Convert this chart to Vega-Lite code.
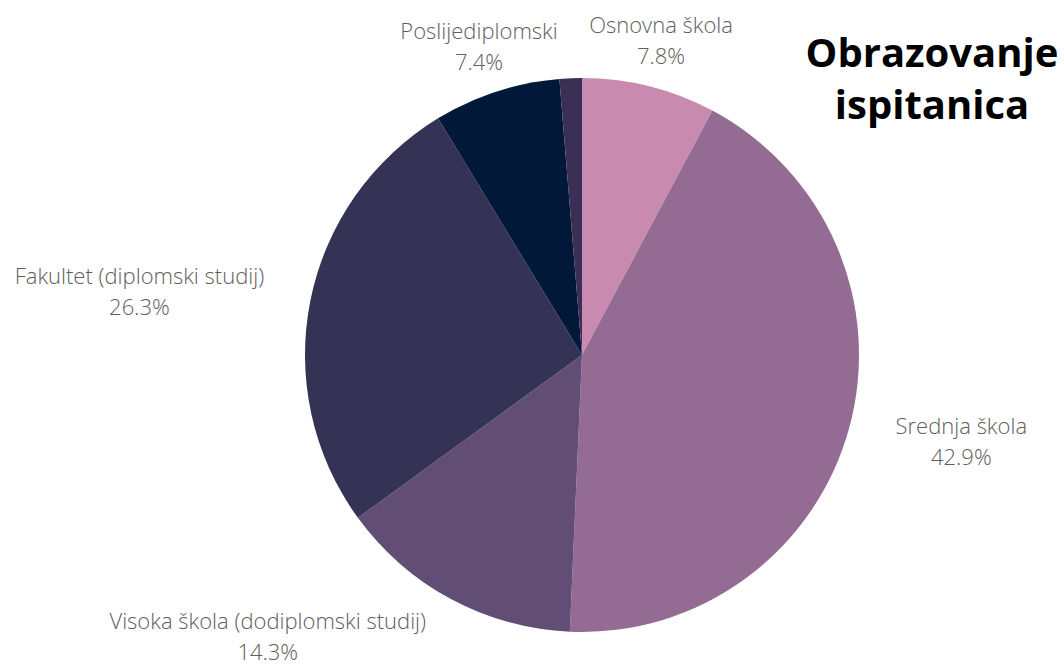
{
  "$schema": "https://vega.github.io/schema/vega-lite/v6.json",
  "width": 964,
  "height": 624,
  "autosize": {"type": "none"},
  "padding": {"left": 100, "top": 43, "right": 0, "bottom": 0},
  "background": "white",
  "title": {
    "text": ["Obrazovanje", "ispitanica"],
    "anchor": "end",
    "frame": "group",
    "align": "center",
    "dx": -132,
    "dy": 141,
    "font": "Open Sans",
    "fontSize": 40,
    "fontWeight": "bold",
    "color": "#000000",
    "lineHeight": 52
  },
  "config": {"view": {"stroke": null}},
  "data": {
    "values": [
      {"kategorija": "Osnovna škola", "udio": 0.078, "red": 1},
      {"kategorija": "Srednja škola", "udio": 0.429, "red": 2},
      {"kategorija": "Visoka škola (dodiplomski studij)", "udio": 0.143, "red": 3},
      {"kategorija": "Fakultet (diplomski studij)", "udio": 0.263, "red": 4},
      {"kategorija": "Poslijediplomski", "udio": 0.074, "red": 5},
      {"kategorija": "Ostalo", "udio": 0.013, "red": 6}
    ]
  },
  "transform": [
    {"calculate": "[datum.kategorija, format(datum.udio, '.1%')]", "as": "oznaka"}
  ],
  "encoding": {
    "theta": {"field": "udio", "type": "quantitative", "stack": true},
    "order": {"field": "red", "type": "quantitative"}
  },
  "layer": [
    {
      "mark": {"type": "arc", "outerRadius": 277},
      "encoding": {
        "color": {
          "field": "kategorija",
          "type": "nominal",
          "legend": null,
          "scale": {
            "domain": ["Osnovna škola", "Srednja škola", "Visoka škola (dodiplomski studij)", "Fakultet (diplomski studij)", "Poslijediplomski", "Ostalo"],
            "range": ["#c88aaf", "#946b93", "#624d75", "#343356", "#021839", "#3b2f55"]
          }
        }
      }
    },
    {
      "mark": {"type": "text", "radius": 330, "dx": -1, "dy": -9, "font": "Open Sans", "fontSize": 22, "fontWeight": 300, "color": "#605e5c", "lineHeight": 31, "align": "center", "baseline": "middle"},
      "encoding": {
        "text": {"condition": {"test": "datum.red == 1 || datum.red == 5", "field": "oznaka"}, "value": ""}
      }
    },
    {
      "mark": {"type": "text", "radius": 330, "dx": 61, "dy": -15, "font": "Open Sans", "fontSize": 22, "fontWeight": 300, "color": "#605e5c", "lineHeight": 31, "align": "center", "baseline": "middle"},
      "encoding": {
        "text": {"condition": {"test": "datum.red == 2", "field": "oznaka"}, "value": ""}
      }
    },
    {
      "mark": {"type": "text", "radius": 330, "dx": -158, "dy": -24, "font": "Open Sans", "fontSize": 22, "fontWeight": 300, "color": "#605e5c", "lineHeight": 31, "align": "center", "baseline": "middle"},
      "encoding": {
        "text": {"condition": {"test": "datum.red == 3", "field": "oznaka"}, "value": ""}
      }
    },
    {
      "mark": {"type": "text", "radius": 330, "dx": -119, "dy": -13, "font": "Open Sans", "fontSize": 22, "fontWeight": 300, "color": "#605e5c", "lineHeight": 31, "align": "center", "baseline": "middle"},
      "encoding": {
        "text": {"condition": {"test": "datum.red == 4", "field": "oznaka"}, "value": ""}
      }
    }
  ]
}
